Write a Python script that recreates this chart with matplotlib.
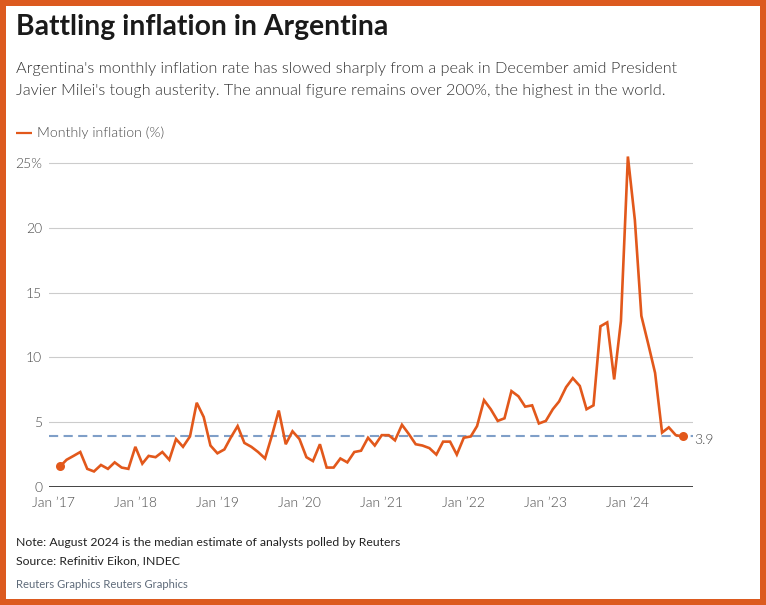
import matplotlib
matplotlib.use("Agg")
import matplotlib.pyplot as plt
import matplotlib.dates as mdates
from matplotlib.lines import Line2D
from matplotlib.patches import Rectangle
import pandas as pd
import datetime as dt

# ---------------- data ----------------
start_month = "2017-01"
end_month = "2024-08"
inflation = [
    1.6, 2.1, 2.4, 2.7, 1.4, 1.2, 1.7, 1.4, 1.9, 1.5, 1.4, 3.1,   # 2017
    1.8, 2.4, 2.3, 2.7, 2.1, 3.7, 3.1, 3.9, 6.5, 5.4, 3.2, 2.6,   # 2018
    2.9, 3.8, 4.7, 3.4, 3.1, 2.7, 2.2, 4.0, 5.9, 3.3, 4.3, 3.7,   # 2019
    2.3, 2.0, 3.3, 1.5, 1.5, 2.2, 1.9, 2.7, 2.8, 3.8, 3.2, 4.0,   # 2020
    4.0, 3.6, 4.8, 4.1, 3.3, 3.2, 3.0, 2.5, 3.5, 3.5, 2.5, 3.8,   # 2021
    3.9, 4.7, 6.7, 6.0, 5.1, 5.3, 7.4, 7.0, 6.2, 6.3, 4.9, 5.1,   # 2022
    6.0, 6.6, 7.7, 8.4, 7.8, 6.0, 6.3, 12.4, 12.7, 8.3, 12.8, 25.5,  # 2023
    20.6, 13.2, 11.0, 8.8, 4.2, 4.6, 4.0, 3.9,                    # 2024
]
reference_value = 3.9
tick_years = [2017, 2018, 2019, 2020, 2021, 2022, 2023, 2024]
tick_labels = ["Jan \u201917", "Jan \u201918", "Jan \u201919", "Jan \u201920",
               "Jan \u201921", "Jan \u201922", "Jan \u201923", "Jan \u201924"]
y_ticks = [0, 5, 10, 15, 20, 25]
y_tick_labels = ["0", "5", "10", "15", "20", "25%"]

title = "Battling inflation in Argentina"
subtitle1 = "Argentina's monthly inflation rate has slowed sharply from a peak in December amid President"
subtitle2 = "Javier Milei's tough austerity. The annual figure remains over 200%, the highest in the world."
legend_label = "Monthly inflation (%)"
note = "Note: August 2024 is the median estimate of analysts polled by Reuters"
source = "Source: Refinitiv Eikon, INDEC"
credit = "Reuters Graphics Reuters Graphics"

# monthly values plotted at the end of each month
months = pd.period_range(start_month, end_month, freq="M")
x = (months + 1).to_timestamp(how="start")

# ---------------- style ----------------
W, H = 766, 605
FONT = "Lato"
ORANGE = "#e2581b"
BORDER = "#dc5a1f"
DASH = "#7f9fc8"
GRID = "#cccccc"
TICKC = "#4a4a4a"
LIGHT = 300

plt.rcParams["font.family"] = [FONT, "DejaVu Sans"]

fig = plt.figure(figsize=(W / 100, H / 100), dpi=100)
fig.patch.set_facecolor("white")
renderer = fig.canvas.get_renderer()


def fx(px):
    return px / W


def fy(py):
    return 1 - py / H


def fit_size(s, target_w, **kw):
    t = fig.text(0, 0, s, fontsize=20, **kw)
    w = t.get_window_extent(renderer).width
    t.remove()
    return 20 * target_w / w


def put(px, py, s, size, **kw):
    return fig.text(fx(px), fy(py), s, fontsize=size, ha="left", va="baseline", **kw)


# border
bw = 6
for (x0, y0, w0, h0) in [(0, 0, W, bw), (0, H - bw, W, bw), (0, 0, bw, H), (W - bw, 0, bw, H)]:
    fig.patches.append(Rectangle((x0 / W, 1 - (y0 + h0) / H), w0 / W, h0 / H,
                                 transform=fig.transFigure, facecolor=BORDER,
                                 edgecolor="none", zorder=10))

# texts
s_title = fit_size(title, 371, fontweight="bold")
put(16, 35, title, s_title, fontweight="bold", color="#1a1a1a")

s_sub = fit_size(subtitle1, 663, fontweight=LIGHT)
put(16, 73.5, subtitle1, s_sub, fontweight=LIGHT, color="#333333")
put(16, 95.5, subtitle2, s_sub, fontweight=LIGHT, color="#333333")

s_leg = fit_size(legend_label, 127, fontweight=LIGHT)
put(37, 137, legend_label, s_leg, fontweight=LIGHT, color=TICKC)
fig.add_artist(Line2D([fx(16), fx(32)], [fy(132.7), fy(132.7)], color=ORANGE,
                      lw=1.6, transform=fig.transFigure, solid_capstyle="butt"))

s_note = fit_size(note, 384)
put(16, 545.7, note, s_note, color="#222222")
put(16, 564.5, source, s_note, color="#222222")
s_cred = fit_size(credit, 173)
put(16, 587.5, credit, s_cred, color="#5f6b7a")

# ---------------- axes ----------------
ax_left, ax_right = 49, 693
y0_px = 487
px_per_unit = 12.96
ymax = 26
ax_top = y0_px - ymax * px_per_unit
ax = fig.add_axes([fx(ax_left), fy(y0_px), (ax_right - ax_left) / W, (y0_px - ax_top) / H])
ax.set_facecolor("none")
for sp in ax.spines.values():
    sp.set_visible(False)

jan17 = dt.datetime(2017, 1, 1)
px_per_day = 0.2248
label0_px = 53.3
xl = jan17 - dt.timedelta(days=(label0_px - ax_left) / px_per_day)
xr = jan17 + dt.timedelta(days=(ax_right - label0_px) / px_per_day)
ax.set_xlim(mdates.date2num(xl), mdates.date2num(xr))
ax.set_ylim(0, ymax)

for v in y_ticks[1:]:
    ax.axhline(v, color=GRID, lw=0.8, zorder=1)
ax.axhline(0, color="#111111", lw=1.1, zorder=2)

ax.axhline(reference_value, color=DASH, lw=1.5, linestyle=(0, (4.4, 2.6)), zorder=3)

ax.plot(x, inflation, color=ORANGE, lw=1.9, zorder=4, solid_joinstyle="miter")
ax.plot([x[0], x[-1]], [inflation[0], inflation[-1]], "o", color=ORANGE, ms=6.5, zorder=5,
        markeredgewidth=0)

s_tick = fit_size(tick_labels[0], 43, fontweight=LIGHT)
ax.set_xticks([mdates.date2num(dt.datetime(yv, 1, 1)) for yv in tick_years])
ax.set_xticklabels(tick_labels, fontsize=s_tick, fontweight=LIGHT, color=TICKC)
ax.set_yticks(y_ticks)
ax.set_yticklabels(y_tick_labels, fontsize=s_tick, fontweight=LIGHT, color=TICKC)
ax.tick_params(axis="both", length=0)
ax.tick_params(axis="x", pad=7.5)
ax.tick_params(axis="y", pad=5)

ax.annotate(f"{reference_value}", xy=(1, reference_value), xycoords=("axes fraction", "data"),
            xytext=(1, -2.5), textcoords="offset points", ha="left", va="center",
            fontsize=s_tick, fontweight=LIGHT, color=TICKC)

fig.savefig("out.png", dpi=100, facecolor="white")
